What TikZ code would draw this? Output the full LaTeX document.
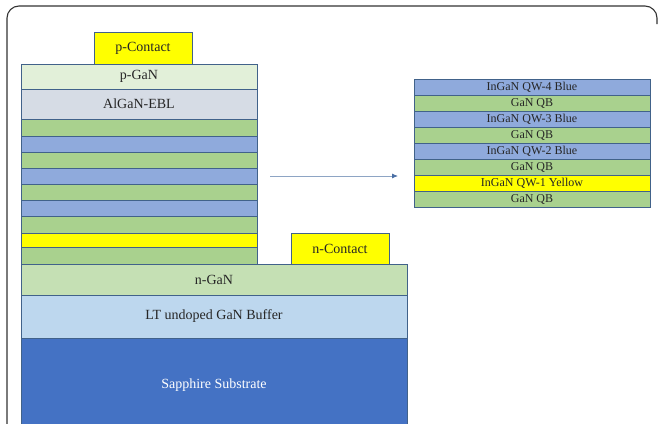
\documentclass[tikz,border=0pt]{standalone}
\usepackage{fontspec}
\setmainfont{Liberation Serif}
\usetikzlibrary{arrows.meta}

\definecolor{qbgreen}{HTML}{A9D18E}
\definecolor{qwblue}{HTML}{8FAADC}
\definecolor{qwyellow}{HTML}{FFFF00}
\definecolor{pgan}{HTML}{E2F0D9}
\definecolor{ebl}{HTML}{D6DCE5}
\definecolor{ngan}{HTML}{C5E0B4}
\definecolor{buffer}{HTML}{BDD7EE}
\definecolor{sapphire}{HTML}{4472C4}
\definecolor{edge}{HTML}{41628A}
\definecolor{inktext}{HTML}{262626}
\definecolor{arrowline}{HTML}{8EA5C4}
\definecolor{arrowhead}{HTML}{4A6FA5}

\tikzset{
  layerbox/.style={draw=edge, line width=0.9pt, rectangle, inner sep=0pt,
    outer sep=0pt, anchor=north west, text=inktext,
    font=\fontsize{14}{16}\selectfont},
  thinlayer/.style={layerbox, font=\fontsize{12}{13}\selectfont},
  framebox/.style={draw=black!80, line width=1.1pt, rounded corners=12pt},
}

% \layer{style}{name}{x1}{y1}{x2}{y2}{fill}{label}
\newcommand\layer[8]{%
  \node[#1, fill=#7, minimum width={#5-#3}, minimum height={#6-#4}]
    (#2) at (#3,#4) {#8};}

\begin{document}
\begin{tikzpicture}[x=1pt, y=-1pt]
  \useasboundingbox (0,0) rectangle (658,423);
  \begin{scope}
    \clip (0,0) rectangle (658,423);

    % outer frame: left side and top edge with rounded corners
    \draw[framebox] (7,440) -- (7,6) -- (657,6) -- (657,24);

    % substrate and n-side
    \layer{layerbox}{sub}{21}{338}{407}{432}{sapphire}{\textcolor{white}{Sapphire Substrate}}
    \layer{layerbox}{buf}{21}{295}{407}{338}{buffer}{LT undoped GaN Buffer}
    \layer{layerbox}{nGaN}{21}{264}{407}{295}{ngan}{n-GaN}
    \layer{layerbox}{ncon}{291}{233}{389}{264}{qwyellow}{n-Contact}

    % active region (bottom to top)
    \layer{layerbox}{qb1}{21}{247}{257}{264}{qbgreen}{}
    \layer{layerbox}{qw1}{21}{233}{257}{247}{qwyellow}{}
    \layer{layerbox}{qb2}{21}{216}{257}{233}{qbgreen}{}
    \layer{layerbox}{qw2}{21}{200}{257}{216}{qwblue}{}
    \layer{layerbox}{qb3}{21}{184}{257}{200}{qbgreen}{}
    \layer{layerbox}{qw3}{21}{168}{257}{184}{qwblue}{}
    \layer{layerbox}{qb4}{21}{152}{257}{168}{qbgreen}{}
    \layer{layerbox}{qw4}{21}{136}{257}{152}{qwblue}{}
    \layer{layerbox}{qb5}{21}{119}{257}{136}{qbgreen}{}

    % p-side
    \layer{layerbox}{ebl}{21}{89}{257}{119}{ebl}{AlGaN-EBL}
    \layer{layerbox}{pGaN}{21}{64}{257}{89}{pgan}{p-GaN}
    \layer{layerbox}{pcon}{94}{32}{192}{64}{qwyellow}{p-Contact}

    % detail of the quantum-well stack
    \layer{thinlayer}{d1}{414}{79}{650}{95}{qwblue}{InGaN QW-4 Blue}
    \layer{thinlayer}{d2}{414}{95}{650}{111}{qbgreen}{GaN QB}
    \layer{thinlayer}{d3}{414}{111}{650}{127}{qwblue}{InGaN QW-3 Blue}
    \layer{thinlayer}{d4}{414}{127}{650}{143}{qbgreen}{GaN QB}
    \layer{thinlayer}{d5}{414}{143}{650}{159}{qwblue}{InGaN QW-2 Blue}
    \layer{thinlayer}{d6}{414}{159}{650}{175}{qbgreen}{GaN QB}
    \layer{thinlayer}{d7}{414}{175}{650}{191}{qwyellow}{InGaN QW-1 Yellow}
    \layer{thinlayer}{d8}{414}{191}{650}{207}{qbgreen}{GaN QB}

    % pointer from the active region to its detail
    \coordinate (arrS) at (270,176);
    \coordinate (arrE) at (398,176);
    \draw[arrowline, line width=0.8pt,
      -{Latex[length=6pt, width=5pt, color=arrowhead]}] (arrS) -- (arrE);
  \end{scope}
\end{tikzpicture}
\end{document}
